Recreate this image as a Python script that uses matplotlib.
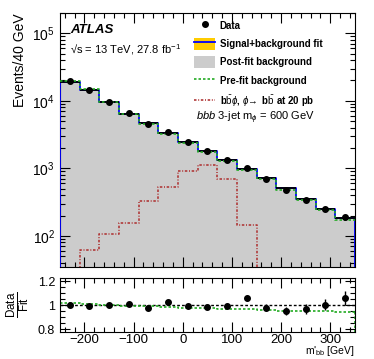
import numpy as np
import matplotlib
matplotlib.use("Agg")
import matplotlib.pyplot as plt
from matplotlib.lines import Line2D
from matplotlib.patches import Patch
from matplotlib.ticker import MultipleLocator, LogLocator, NullFormatter, FixedLocator

plt.rcParams['font.family'] = ['Liberation Sans', 'DejaVu Sans']
plt.rcParams['mathtext.fontset'] = 'custom'
plt.rcParams['mathtext.rm'] = 'Liberation Sans'
plt.rcParams['mathtext.it'] = 'Liberation Sans:italic'
plt.rcParams['mathtext.bf'] = 'Liberation Sans:bold'

# ---- data ----
bin_edges = [-250, -210, -170, -130, -90, -50, -10, 30, 70, 110, 150, 190, 230, 270, 310, 350]
data = [19400, 14500, 9500, 6500, 4550, 3400, 2450, 1780, 1330, 1030, 700, 480, 341, 253, 193]
ratio = [1.005, 0.995, 1.0, 1.01, 0.98, 1.03, 0.995, 0.985, 0.995, 1.06, 0.98, 0.95, 0.97, 1.005, 1.06]
ratio_err = [0.008, 0.008, 0.01, 0.012, 0.014, 0.016, 0.018, 0.02, 0.022, 0.025, 0.03, 0.035, 0.04, 0.045, 0.06]
prefit_ratio = [1.018, 1.013, 1.005, 0.998, 0.993, 0.985, 0.98, 0.975, 0.97, 0.965, 0.96, 0.955, 0.955, 0.95, 0.94]
fit_unc = [0.005, 0.005, 0.006, 0.006, 0.007, 0.008, 0.008, 0.01, 0.01, 0.012, 0.014, 0.016, 0.02, 0.03, 0.03]
signal = [0, 61, 108, 158, 330, 525, 900, 1135, 690, 144, 0, 0, 0, 0, 0]

edges = np.array(bin_edges, dtype=float)
centers = 0.5 * (edges[:-1] + edges[1:])
data = np.array(data, dtype=float)
ratio = np.array(ratio)
fit = data / ratio
prefit = fit * np.array(prefit_ratio)
sig = np.array(signal, dtype=float)
sig_plot = np.where(sig > 0, sig, 1e-3)

fig = plt.figure(figsize=(3.74, 3.59), dpi=100)
ax = fig.add_axes([0.160, 0.257, 0.789, 0.707])
rax = fig.add_axes([0.160, 0.075, 0.789, 0.151])

def stepvals(v):
    return np.append(v, v[-1])

GREEN_LS = (0, (1.5, 1.2))
RED_LS = (0, (1.5, 1.0, 0.6, 1.0))
RED = '#b03a3a'

# post-fit background fill
ax.fill_between(edges, stepvals(fit), 1e-3, step='post', color='#cccccc', lw=0, zorder=1)
# uncertainty band
unc = np.array(fit_unc)
ax.fill_between(edges, stepvals(fit * (1 - unc)), stepvals(fit * (1 + unc)), step='post',
                color='#ffcc00', lw=0, zorder=2)
# signal+background fit: blue step line with black horizontals
ax.step(np.concatenate([[edges[0]], edges, [edges[-1]]]),
        np.concatenate([[1e-3], stepvals(fit), [1e-3]]), where='post', color='#0000ff', lw=1.3, zorder=3)
ax.hlines(fit, edges[:-1], edges[1:], color='black', lw=1.3, zorder=4)
# pre-fit background
ax.step(edges, stepvals(prefit), where='post', color='#22aa22', lw=1.2, ls=GREEN_LS, zorder=5)
# signal
ax.step(np.concatenate([edges, [edges[-1]]]), np.concatenate([stepvals(sig_plot), [1e-3]]),
        where='post', color=RED, lw=1.2, ls=RED_LS, zorder=5)
# data
ax.errorbar(centers, data, yerr=np.sqrt(data), fmt='o', color='black', ms=4, lw=1, zorder=6)

ax.set_yscale('log')
ax.set_xlim(-250, 350)
ax.set_ylim(35, 2e5)
ax.xaxis.set_major_locator(MultipleLocator(100))
ax.xaxis.set_minor_locator(MultipleLocator(20))
ax.yaxis.set_major_locator(LogLocator(base=10, numticks=10))
ax.yaxis.set_minor_locator(LogLocator(base=10, subs=np.arange(2, 10), numticks=20))
ax.yaxis.set_minor_formatter(NullFormatter())
ax.tick_params(axis='x', labelbottom=False)
for a in (ax, rax):
    a.tick_params(which='both', direction='in', top=True, right=True, labelsize=10)
    a.tick_params(which='major', length=7, width=0.8)
    a.tick_params(which='minor', length=3.5, width=0.8)
    for s in a.spines.values():
        s.set_linewidth(0.8)
rax.tick_params(axis='x', pad=1.5, labelsize=9.5)

ax.set_ylabel('Events/40 GeV', fontsize=10, loc='top')

ax.text(0.035, 0.955, 'ATLAS', transform=ax.transAxes, fontsize=9.5, fontweight='bold',
        fontstyle='italic', va='top')
ax.text(0.035, 0.885, '√s = 13 TeV, 27.8 fb$^{-1}$', transform=ax.transAxes,
        fontsize=8, va='top')

handles = [
    Line2D([], [], color='black', marker='o', ls='none', ms=4),
    (Patch(facecolor='#ffcc00', lw=0), Line2D([], [], color='#0000ff', lw=1.3)),
    Patch(facecolor='#cccccc', lw=0),
    Line2D([], [], color='#22aa22', lw=1.2, ls=GREEN_LS),
    Line2D([], [], color=RED, lw=1.2, ls=RED_LS),
]
labels = ['Data', 'Signal+background fit', 'Post-fit background', 'Pre-fit background',
          r'b$\bar{\mathrm{b}}\phi$, $\phi\!\rightarrow$ b$\bar{\mathrm{b}}$ at 20 pb']
leg = ax.legend(handles, labels, loc='upper left', bbox_to_anchor=(0.443, 0.99), frameon=False,
                fontsize=7, handlelength=2.1, handleheight=1.6, labelspacing=0.6,
                handletextpad=0.5, borderaxespad=0)
for t in leg.get_texts():
    t.set_fontweight('bold')
ax.text(0.463, 0.585, r'$bbb$ 3-jet m$_{\phi}$ = 600 GeV', transform=ax.transAxes,
        fontsize=8, va='center')

# ratio panel
rax.axhline(1.0, color='black', ls=(0, (2, 1.5)), lw=1)
rax.step(edges, stepvals(np.array(prefit_ratio)), where='post', color='#22aa22', lw=1.2, ls=GREEN_LS)
rax.plot([edges[-1], edges[-1]], [prefit_ratio[-1], 0.7], color='#22aa22', lw=1.2, ls=GREEN_LS)
rax.errorbar(centers, ratio, yerr=ratio_err, fmt='o', color='black', ms=4, lw=1)
rax.set_xlim(-250, 350)
rax.set_ylim(0.775, 1.23)
rax.xaxis.set_major_locator(MultipleLocator(100))
rax.xaxis.set_minor_locator(MultipleLocator(20))
rax.yaxis.set_major_locator(FixedLocator([0.8, 1.0, 1.2]))
rax.yaxis.set_minor_locator(MultipleLocator(0.05))
rax.set_yticklabels(['0.8', '1', '1.2'], fontsize=9)
rax.set_ylabel(r'$\frac{\mathrm{Data}}{\mathrm{Fit}}$', fontsize=12, labelpad=4)
rax.set_xlabel(r"m$'_{\mathrm{bb}}$ [GeV]", fontsize=7.5, loc='right', labelpad=0)
rax.xaxis.set_label_coords(1.0, -0.47)
rax.xaxis.label.set_va('bottom')

fig.savefig('out.png', dpi=100)
